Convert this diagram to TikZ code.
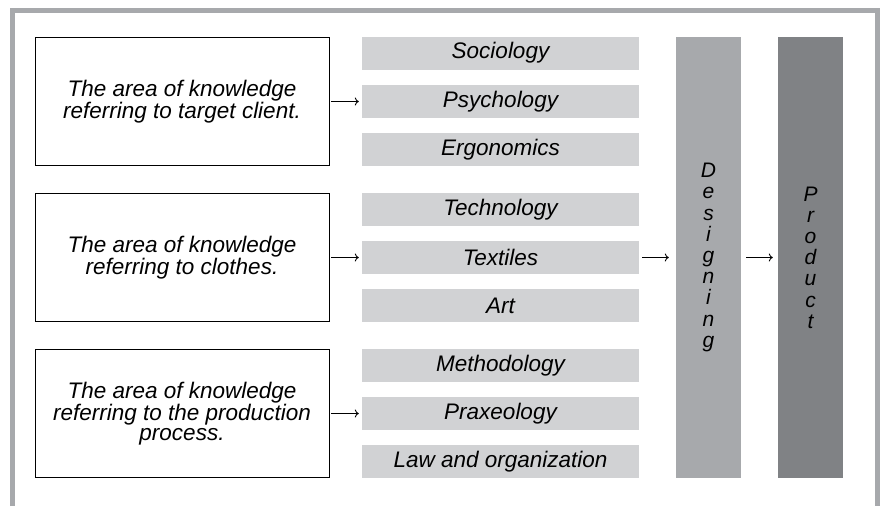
\documentclass[tikz,border=0pt]{standalone}
\usepackage{fontspec}
\setmainfont{Liberation Sans}
\usepackage{xcolor}
\usetikzlibrary{calc, arrows.meta}

\definecolor{fieldgray}{HTML}{D1D2D4}
\definecolor{designgray}{HTML}{A7A9AC}
\definecolor{productgray}{HTML}{808285}
\definecolor{framegray}{HTML}{A7A9AC}

\begin{document}
\begin{tikzpicture}[x = 1pt, y = -1pt,
    area/.style = {draw, line width = 0.8pt, minimum width = 294pt, minimum height = 128pt,
        inner sep = 0pt, align = center, font = \itshape\fontsize{22.5}{20}\selectfont},
    field/.style = {fill = fieldgray, minimum width = 277pt, minimum height = 33pt,
        inner sep = 0pt, font = \itshape\fontsize{22.5}{22.5}\selectfont},
    column/.style = {minimum width = 65pt, minimum height = 441pt, inner sep = 0pt,
        align = center, font = \itshape\fontsize{21}{21.2}\selectfont},
    link/.style = {-{To[length = 4pt, width = 8pt]}, line width = 0.9pt}]
            \useasboundingbox (0,0) rectangle (880,506);
            % open frame
            \draw[framegray, line width = 5pt] (12.5,506) -- (12.5,10) -- (877.5,10) -- (877.5,506);
            % areas of knowledge
            \node[area] (client)  at (182,101.5) {The area of knowledge\\referring to target client.};
            \node[area] (clothes) at (182,257.5) {The area of knowledge\\referring to clothes.};
            \node[area] (process) at (182,413.5) {The area of knowledge\\referring to the production\\process.};
            % disciplines
            \node[field] (soc)  at (500.5,53)    {Sociology};
            \node[field] (psy)  at (500.5,101.5) {Psychology};
            \node[field] (erg)  at (500.5,149.5) {Ergonomics};
            \node[field] (tech) at (500.5,209.5) {Technology};
            \node[field] (tex)  at (500.5,257.5) {Textiles};
            \node[field] (art)  at (500.5,305.5) {Art};
            \node[field] (meth) at (500.5,365.5) {Methodology};
            \node[field] (prax) at (500.5,413.5) {Praxeology};
            \node[field] (law)  at (500.5,461.5) {Law and organization};
            % designing and product
            \node[column, fill = designgray]  (design)  at (708.5,257.5) {D\\e\\s\\i\\g\\n\\i\\n\\g};
            \node[column, fill = productgray] (product) at (810.5,257.5) {P\\r\\o\\d\\u\\c\\t};
            % arrows
            \draw[link, shorten < = 2pt, shorten > = 3pt] (client)  -- (psy);
            \draw[link, shorten < = 2pt, shorten > = 3pt] (clothes) -- (tex);
            \draw[link, shorten < = 2pt, shorten > = 3pt] (process) -- (prax);
            \draw[link, shorten < = 3pt, shorten > = 7pt] (tex) -- (design);
            \draw[link, shorten < = 5pt, shorten > = 5pt] (design) -- (product);
\end{tikzpicture}
\end{document}
